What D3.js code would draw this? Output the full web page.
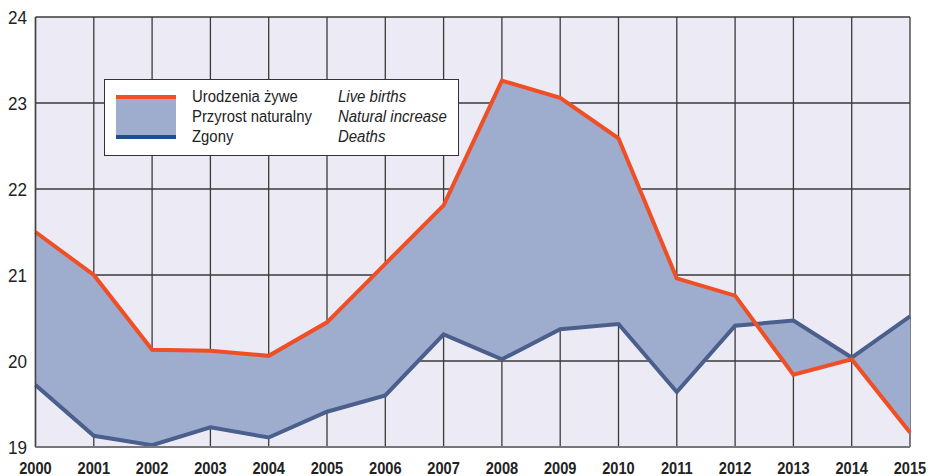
<!DOCTYPE html>
<html>
<head>
<meta charset="utf-8">
<script src="https://cdn.jsdelivr.net/npm/d3@7"></script>
<style>
  body { margin: 0; background: #fff; }
  text { font-family: "Liberation Sans Narrow", "Arial Narrow", "Liberation Sans", sans-serif; fill: #222; }
</style>
</head>
<body>
<svg width="928" height="476"></svg>
<script>
var years = [2000,2001,2002,2003,2004,2005,2006,2007,2008,2009,2010,2011,2012,2013,2014,2015]
var births = [21.50,21.00,20.13,20.12,20.06,20.45,21.13,21.81,23.26,23.06,22.59,20.96,20.76,19.84,20.02,19.17]
var deaths = [19.72,19.13,19.02,19.23,19.11,19.41,19.60,20.31,20.02,20.37,20.43,19.64,20.41,20.47,20.04,20.52]
var yTicks = [19,20,21,22,23,24]
var legendPl = ['Urodzenia żywe','Przyrost naturalny','Zgony']
var legendEn = ['Live births','Natural increase','Deaths']

var svg = d3.select('svg')
var x = d3.scaleLinear().domain([2000,2015]).range([35.5,910])
var y = d3.scaleLinear().domain([19,24]).range([447,17])

// brak czcionki waskiej -> sciskam tekst w poziomie
function narrow(px,py,sx){ return 'translate('+px+','+py+') scale('+sx+',1)' }

// background
svg.append('rect')
   .attr('x',x(2000)).attr('y',y(24))
   .attr('width',x(2015)-x(2000)).attr('height',y(19)-y(24))
   .attr('fill','#ecebf5')

// grid
svg.selectAll('.vg').data(years).enter().append('line')
   .attr('x1',d=>x(d)).attr('x2',d=>x(d))
   .attr('y1',y(24)).attr('y2',y(19))
   .attr('stroke','#3a3a3a').attr('stroke-width',1.3)
svg.selectAll('.hg').data(yTicks).enter().append('line')
   .attr('x1',x(2000)).attr('x2',x(2015))
   .attr('y1',d=>y(d)).attr('y2',d=>y(d))
   .attr('stroke','#3a3a3a').attr('stroke-width',1.3)

var data = years.map((d,i)=>({year:d,b:births[i],z:deaths[i]}))

// area between births and deaths
svg.append('path').datum(data)
   .attr('d',d3.area().x(d=>x(d.year)).y0(d=>y(d.z)).y1(d=>y(d.b)))
   .attr('fill','#9eacce')

svg.append('path').datum(data)
   .attr('d',d3.line().x(d=>x(d.year)).y(d=>y(d.z)))
   .attr('fill','none').attr('stroke','#4a5f8c').attr('stroke-width',4)
svg.append('path').datum(data)
   .attr('d',d3.line().x(d=>x(d.year)).y(d=>y(d.b)))
   .attr('fill','none').attr('stroke','#f04e24').attr('stroke-width',4)

// axis lines
svg.append('line').attr('x1',x(2000)).attr('x2',x(2000)).attr('y1',y(24)).attr('y2',y(19))
   .attr('stroke','#444').attr('stroke-width',1.5)
svg.append('line').attr('x1',x(2000)).attr('x2',x(2015)).attr('y1',y(19)).attr('y2',y(19))
   .attr('stroke','#777').attr('stroke-width',2)

// tick labels
svg.selectAll('.yl').data(yTicks).enter().append('text')
   .attr('transform',d=>narrow(27,y(d)+7,0.9))
   .attr('text-anchor','end').attr('font-size',19)
   .text(d=>d)
svg.selectAll('.xl').data(years).enter().append('text')
   .attr('transform',d=>narrow(x(d),474,0.86))
   .attr('text-anchor','middle').attr('font-size',17).attr('font-weight','bold')
   .text(d=>d)

// legend
var lg = svg.append('g')
lg.append('rect').attr('x',104.5).attr('y',79.5).attr('width',354).attr('height',76)
  .attr('fill','#fff').attr('stroke','#333').attr('stroke-width',1)
lg.append('rect').attr('x',116).attr('y',96).attr('width',60).attr('height',41).attr('fill','#9eacce')
lg.append('rect').attr('x',116).attr('y',95).attr('width',60).attr('height',4).attr('fill','#f04e24')
lg.append('rect').attr('x',116).attr('y',135).attr('width',60).attr('height',4).attr('fill','#1d4f8a')
lg.selectAll('.lp').data(legendPl).enter().append('text')
  .attr('transform',(d,i)=>narrow(192,102+i*20,0.875)).attr('font-size',17)
  .text(d=>d)
lg.selectAll('.le').data(legendEn).enter().append('text')
  .attr('transform',(d,i)=>narrow(338,102+i*20,0.88)).attr('font-size',17).attr('font-style','italic')
  .text(d=>d)
</script>
</body>
</html>
